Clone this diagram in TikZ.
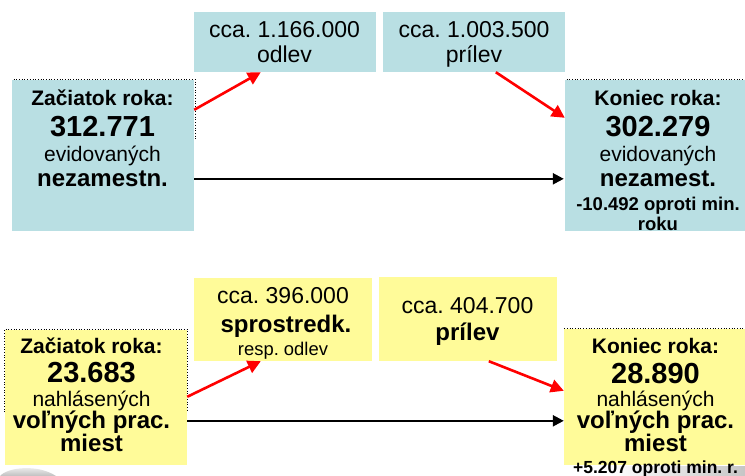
\documentclass[tikz,border=0pt]{standalone}
\usepackage{fontspec}
\setmainfont{Liberation Sans}
\usetikzlibrary{arrows.meta,calc}
\definecolor{boxblue}{HTML}{B9DFE3}
\definecolor{boxyellow}{HTML}{FFFB99}
\definecolor{arrred}{HTML}{FF0000}
\newcommand{\fs}[1]{\fontsize{#1}{#1}\selectfont}
\tikzset{
  bluebox/.style={fill=boxblue, draw=none, inner sep=0pt},
  yellowbox/.style={fill=boxyellow, draw=none, inner sep=0pt},
  txt/.style={anchor=base, inner sep=0pt, text=black, font=\frenchspacing},
  redarrow/.style={draw=arrred, line width=2.6pt, -{Triangle[length=13pt,width=13pt]}},
  blackarrow/.style={draw=black, line width=2.2pt, -{Triangle[length=11pt,width=11pt]}},
  frame/.style={draw=black, dotted, line width=0.7pt},
}
\begin{document}
\frenchspacing
\begin{tikzpicture}[x=1pt,y=-1pt]
\useasboundingbox (0,0) rectangle (745,476);
% background artefacts
\shade[left color=white, right color=gray!45] (610,466) rectangle (745,476);
\shade[top color=white, bottom color=gray!50] (0,476) .. controls (8,467) and (38,464) .. (56,476) -- cycle;
% dotted frames
\draw[frame] (12,140) -- (12,79.5) -- (195,79.5) -- (195,140);
\draw[frame] (565,140) -- (565,79.5) -- (745,79.5);
\draw[frame] (4.5,412) -- (4.5,329.5) -- (187.5,329.5) -- (187.5,412);
\draw[frame] (564,412) -- (564,328.5) -- (745,328.5);
% boxes (top)
\node[bluebox, minimum width=182pt, minimum height=60pt] (odlev) at (285,42) {};
\node[bluebox, minimum width=182pt, minimum height=60pt] (prilev) at (474,42) {};
\node[bluebox, minimum width=182pt, minimum height=151pt] (zac) at (103,155.5) {};
\node[bluebox, minimum width=180pt, minimum height=151pt] (kon) at (655,155.5) {};
% boxes (bottom)
\node[yellowbox, minimum width=178pt, minimum height=83pt] (spro) at (283,319.5) {};
\node[yellowbox, minimum width=178pt, minimum height=84pt] (prilevb) at (468,319) {};
\node[yellowbox, minimum width=182pt, minimum height=135pt] (zacb) at (96,397.5) {};
\node[yellowbox, minimum width=181pt, minimum height=136pt] (konb) at (654.5,397) {};
% texts top
\node[txt] (odlev1) at (284.5,38) {\fs{23}cca. 1.166.000};
\node[txt] (odlev2) at (284.5,63) {\fs{23}odlev};
\node[txt] (prilev1) at (474,38) {\fs{23}cca. 1.003.500};
\node[txt] (prilev2) at (474,63) {\fs{23}prílev};
\node[txt] (zac1) at (102.5,106) {\fs{21}\bfseries Začiatok roka:};
\node[txt] (zac2) at (102.5,137) {\fs{29}\bfseries 312.771};
\node[txt] (zac3) at (102.5,162) {\fs{21}evidovaných};
\node[txt] (zac4) at (102.5,187) {\fs{24}\bfseries nezamestn.};
\node[txt] (kon1) at (658,106) {\fs{21}\bfseries Koniec roka:};
\node[txt] (kon2) at (658,137) {\fs{29}\bfseries 302.279};
\node[txt] (kon3) at (658,162) {\fs{21}evidovaných};
\node[txt] (kon4) at (658,186) {\fs{24}\bfseries nezamest.};
\node[txt] (kon5) at (658,211) {\fs{18.5}\bfseries -10.492 oproti min.};
\node[txt] (kon6) at (658,231) {\fs{18.5}\bfseries roku};
% texts bottom
\node[txt] (spro1) at (283,303) {\fs{23}cca. 396.000};
\node[txt] (spro2) at (286,332) {\fs{24}\bfseries sprostredk.};
\node[txt] (spro3) at (283,355) {\fs{18.4}resp. odlev};
\node[txt] (prb1) at (467.5,313) {\fs{23}cca. 404.700};
\node[txt] (prb2) at (467.5,340) {\fs{24}\bfseries prílev};
\node[txt] (zacb1) at (91.5,353) {\fs{21}\bfseries Začiatok roka:};
\node[txt] (zacb2) at (91.5,382) {\fs{29}\bfseries 23.683};
\node[txt] (zacb3) at (91.5,406) {\fs{21}nahlásených};
\node[txt] (zacb4) at (91.5,428) {\fs{24}\bfseries voľných prac.};
\node[txt] (zacb5) at (91.5,451) {\fs{24}\bfseries miest};
\node[txt] (konb1) at (655.5,353) {\fs{21}\bfseries Koniec roka:};
\node[txt] (konb2) at (655.5,383) {\fs{29}\bfseries 28.890};
\node[txt] (konb3) at (655.5,406) {\fs{21}nahlásených};
\node[txt] (konb4) at (655.5,428) {\fs{24}\bfseries voľných prac.};
\node[txt] (konb5) at (655.5,451) {\fs{24}\bfseries miest};
\node[txt] (konb6) at (655.5,473) {\fs{17.5}\bfseries +5.207 oproti min. r.};
% connectors
\draw[redarrow] ($(zac.north east)+(0,30)$) -- ($(odlev.south west)+(67,0)$);
\draw[redarrow] ($(prilev.south west)+(113,0)$) -- ($(kon.north west)+(0,38)$);
\draw[blackarrow] ($(zac.north east)+(0,99)$) -- ($(kon.north west)+(-1,99)$);
\draw[redarrow] ($(zacb.north east)+(0,67)$) -- ($(spro.south west)+(67,0)$);
\draw[redarrow] ($(prilevb.south west)+(110,0)$) -- ($(konb.north west)+(0,62)$);
\draw[blackarrow] ($(zacb.north east)+(0,91)$) -- ($(konb.north west)+(0,92)$);
\end{tikzpicture}
\end{document}
